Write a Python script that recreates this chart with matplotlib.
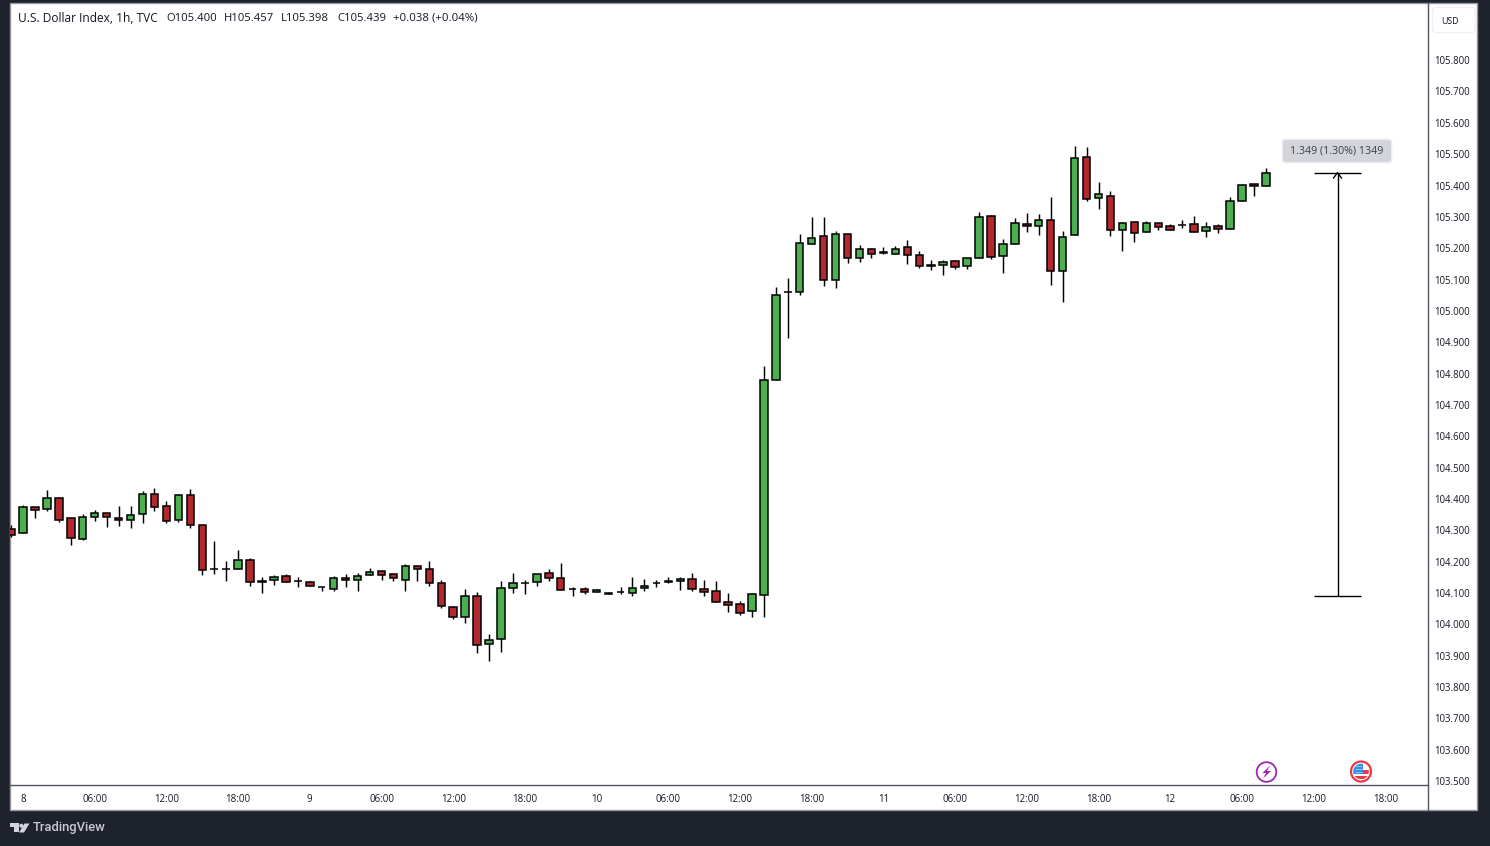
"""U.S. Dollar Index 1h candles with the price range measure, TradingView look."""
import matplotlib

matplotlib.use("Agg")
import matplotlib.pyplot as plt  # noqa: E402
from matplotlib.patches import Circle, FancyBboxPatch, Polygon, Rectangle  # noqa: E402

plt.rcParams["font.family"] = ["Open Sans", "DejaVu Sans"]

# hourly bars, index 0 is the bar under the "8" label
bar_index = list(range(-1, 105))
opens = [
    104.304, 104.291, 104.374, 104.368, 104.403, 104.338, 104.272, 104.342, 104.355, 104.339,
    104.332, 104.352, 104.415, 104.377, 104.332, 104.412, 104.317, 104.178, 104.176, 104.176,
    104.205, 104.138, 104.141, 104.154, 104.138, 104.135, 104.119, 104.112, 104.148, 104.141,
    104.157, 104.170, 104.161, 104.141, 104.186, 104.176, 104.132, 104.055, 104.023, 104.090,
    103.937, 103.953, 104.116, 104.133, 104.135, 104.164, 104.148, 104.114, 104.113, 104.103,
    104.100, 104.103, 104.100, 104.116, 104.133, 104.134, 104.138, 104.145, 104.113, 104.106,
    104.071, 104.065, 104.043, 104.094, 104.780, 105.060, 105.060, 105.213, 105.238, 105.098,
    105.245, 105.168, 105.197, 105.187, 105.181, 105.203, 105.178, 105.146, 105.146, 105.158,
    105.142, 105.168, 105.302, 105.174, 105.213, 105.276, 105.270, 105.289, 105.126, 105.241,
    105.490, 105.359, 105.365, 105.257, 105.282, 105.251, 105.279, 105.270, 105.273, 105.276,
    105.254, 105.270, 105.260, 105.349, 105.404, 105.400,
]
highs = [
    104.318, 104.381, 104.374, 104.429, 104.407, 104.338, 104.353, 104.365, 104.355, 104.378,
    104.378, 104.426, 104.436, 104.394, 104.416, 104.432, 104.317, 104.267, 104.203, 104.238,
    104.211, 104.152, 104.158, 104.161, 104.152, 104.139, 104.119, 104.154, 104.161, 104.165,
    104.180, 104.170, 104.164, 104.193, 104.189, 104.203, 104.141, 104.058, 104.113, 104.104,
    103.970, 104.138, 104.165, 104.141, 104.161, 104.178, 104.197, 104.119, 104.119, 104.113,
    104.103, 104.120, 104.152, 104.146, 104.141, 104.152, 104.151, 104.165, 104.142, 104.139,
    104.101, 104.075, 104.100, 104.825, 105.075, 105.104, 105.246, 105.300, 105.300, 105.254,
    105.245, 105.209, 105.200, 105.204, 105.206, 105.225, 105.191, 105.162, 105.162, 105.162,
    105.168, 105.316, 105.306, 105.229, 105.297, 105.313, 105.308, 105.362, 105.254, 105.525,
    105.522, 105.410, 105.381, 105.282, 105.286, 105.286, 105.279, 105.276, 105.289, 105.302,
    105.282, 105.276, 105.362, 105.404, 105.404, 105.457,
]
lows = [
    104.280, 104.291, 104.338, 104.363, 104.328, 104.252, 104.268, 104.331, 104.312, 104.315,
    104.309, 104.325, 104.363, 104.322, 104.328, 104.306, 104.159, 104.162, 104.140, 104.176,
    104.121, 104.099, 104.127, 104.135, 104.118, 104.122, 104.105, 104.105, 104.118, 104.108,
    104.157, 104.142, 104.140, 104.105, 104.137, 104.124, 104.051, 104.016, 104.006, 103.908,
    103.882, 103.911, 104.099, 104.096, 104.124, 104.137, 104.109, 104.089, 104.096, 104.103,
    104.097, 104.096, 104.092, 104.108, 104.118, 104.131, 104.111, 104.105, 104.089, 104.071,
    104.038, 104.029, 104.025, 104.025, 104.780, 104.915, 105.052, 105.213, 105.078, 105.072,
    105.154, 105.157, 105.170, 105.181, 105.181, 105.151, 105.138, 105.132, 105.116, 105.135,
    105.135, 105.168, 105.164, 105.122, 105.213, 105.252, 105.243, 105.084, 105.029, 105.241,
    105.352, 105.326, 105.240, 105.192, 105.221, 105.251, 105.259, 105.257, 105.263, 105.251,
    105.237, 105.250, 105.260, 105.349, 105.368, 105.398,
]
closes = [
    104.285, 104.374, 104.364, 104.403, 104.332, 104.275, 104.342, 104.355, 104.342, 104.332,
    104.348, 104.415, 104.374, 104.329, 104.412, 104.317, 104.173, 104.178, 104.176, 104.205,
    104.135, 104.135, 104.151, 104.135, 104.138, 104.122, 104.119, 104.148, 104.141, 104.154,
    104.167, 104.157, 104.148, 104.186, 104.176, 104.132, 104.058, 104.023, 104.090, 103.934,
    103.950, 104.116, 104.132, 104.133, 104.161, 104.148, 104.109, 104.114, 104.103, 104.109,
    104.097, 104.103, 104.116, 104.122, 104.133, 104.138, 104.145, 104.113, 104.103, 104.071,
    104.062, 104.036, 104.097, 104.780, 105.050, 105.060, 105.216, 105.232, 105.098, 105.245,
    105.168, 105.197, 105.181, 105.184, 105.197, 105.178, 105.142, 105.142, 105.155, 105.139,
    105.168, 105.299, 105.171, 105.213, 105.280, 105.270, 105.289, 105.126, 105.235, 105.487,
    105.356, 105.372, 105.257, 105.279, 105.247, 105.279, 105.267, 105.257, 105.273, 105.251,
    105.267, 105.260, 105.349, 105.400, 105.397, 105.439,
]

price_ticks = [105.8, 105.7, 105.6, 105.5, 105.4, 105.3, 105.2, 105.1, 105.0, 104.9, 104.8, 104.7,
               104.6, 104.5, 104.4, 104.3, 104.2, 104.1, 104.0, 103.9, 103.8, 103.7, 103.6, 103.5]
time_positions = [0, 6, 12, 18, 24, 30, 36, 42, 48, 54, 60, 66, 72, 78, 84, 90, 96, 102, 108, 114]
time_labels = ["8", "06:00", "12:00", "18:00", "9", "06:00", "12:00", "18:00", "10", "06:00",
               "12:00", "18:00", "11", "06:00", "12:00", "18:00", "12", "06:00", "12:00", "18:00"]

measure_low = 104.092
measure_high = 105.441
measure_x = [108, 110, 112]

UP = "#4caf50"
DOWN = "#b2282f"
DARK = "#1e222d"
AXIS = "#50535e"
TEXT = "#131722"

W, H = 1490, 846
PX_PER_BAR = 11.95
PX_PER_UNIT = 313.5
fig = plt.figure(figsize=(W / 100, H / 100), dpi=100, facecolor=DARK)

# chrome drawn in pixel coordinates
bg = fig.add_axes([0, 0, 1, 1], zorder=0)
bg.set_xlim(0, W)
bg.set_ylim(H, 0)
bg.axis("off")
bg.add_patch(Rectangle((10, 3), 1467, 807, fc="white", ec="#9598a1", lw=1))
bg.plot([1428, 1428], [3, 810], color=AXIS, lw=1)
bg.add_patch(FancyBboxPatch((1432.5, 7.5), 43, 25, boxstyle="round,pad=0,rounding_size=4",
                            fc="white", ec="#eef0f4", lw=1))
bg.text(1441, 21, "USD", fontsize=6.4, color=TEXT, va="center")

# price chart
ax = fig.add_axes([10 / W, (H - 785) / H, 1418 / W, 782 / H], zorder=1)
ax.patch.set_alpha(0)
ax.set_xlim((10 - 23) / PX_PER_BAR, (1428 - 23) / PX_PER_BAR)
ax.set_ylim(104 + (624.4 - 785) / PX_PER_UNIT, 104 + (624.4 - 3) / PX_PER_UNIT)

colors = [UP if c > o else DOWN for o, c in zip(opens, closes, strict=True)]
ax.vlines(bar_index, lows, highs, color="black", lw=1.05, zorder=2)
ax.bar(bar_index, [c - o for o, c in zip(opens, closes, strict=True)], bottom=opens, width=0.62,
       color=colors, edgecolor="black", linewidth=1.1, zorder=3)

# long-position style range measure
ax.hlines([measure_low, measure_high], measure_x[0], measure_x[2], color="black", lw=1, zorder=3)
ax.vlines(measure_x[1], measure_low, measure_high, color="black", lw=1, zorder=3)
ax.plot([measure_x[1] - 0.33, measure_x[1], measure_x[1] + 0.33],
        [measure_high - 0.017, measure_high, measure_high - 0.017], color="black", lw=1, zorder=3)

for side in ("top", "left", "right"):
    ax.spines[side].set_visible(False)
ax.spines["bottom"].set_color(AXIS)
ax.spines["bottom"].set_linewidth(1)
ax.yaxis.tick_right()
ax.set_yticks(price_ticks)
ax.set_yticklabels([f"{p:.3f}" for p in price_ticks])
ax.set_xticks(time_positions)
ax.set_xticklabels(time_labels)
ax.tick_params(axis="y", length=0, pad=4.7, labelsize=6.9, labelcolor=TEXT)
ax.tick_params(axis="x", length=0, pad=6.4, labelsize=7, labelcolor=TEXT)

# overlay: header, measure label, event icons, footer
top = fig.add_axes([0, 0, 1, 1], zorder=2)
top.set_xlim(0, W)
top.set_ylim(H, 0)
top.axis("off")

header = [(18, "U.S. Dollar Index, 1h, TVC", 8.6), (166, "O105.400", 8.1), (224, "H105.457", 8.1),
          (281, "L105.398", 8.1), (337, "C105.439", 8.1), (393, "+0.038 (+0.04%)", 8.2)]
for x, label, size in header:
    top.text(x, 18.5, label, fontsize=size, color=TEXT, va="center")

# soft shadow under the measure label, then the label itself
top.add_patch(FancyBboxPatch((1281.5, 138.5), 111, 25, boxstyle="round,pad=0,rounding_size=4",
                             fc="#eceef1", ec="none"))
top.add_patch(FancyBboxPatch((1283, 140), 108, 22, boxstyle="round,pad=0,rounding_size=3",
                             fc="#d3d5db", ec="none"))
top.text(1337, 151, "1.349 (1.30%) 1349", fontsize=7.7, color="#3c4048", ha="center", va="center")

# lightning event icon
top.add_patch(Circle((1266.5, 772), 9.8, fc="white", ec="#9c27b0", lw=1.3))
top.add_patch(Polygon([(1270, 765.5), (1262.5, 773), (1266, 773), (1263, 778.5), (1271, 771),
                       (1267, 771)], fc="#9c27b0", ec="none"))

# US flag event icon
top.add_patch(Circle((1361, 771.5), 10, fc="white", ec="#f23645", lw=1.6))
flag_clip = Circle((1361, 771.5), 7.8, transform=top.transData)
flag_parts = [
    Rectangle((1363, 770), 8, 4, fc="#f23645", ec="none"),
    Rectangle((1352, 776.5), 18, 3, fc="#f23645", ec="none"),
    Rectangle((1352, 763), 11, 11, fc="#2f8fe8", ec="none"),
]
for part in flag_parts:
    top.add_patch(part)
    part.set_clip_path(flag_clip)
for row_y in (766, 769, 772):
    top.hlines(row_y, 1354.5, 1362, color="#b7dcfb", lw=0.5)

# TradingView logo
logo_shapes = ([(10, 823.5), (18.5, 823.5), (18.5, 832.5), (13.5, 832.5), (13.5, 827.5), (10, 827.5)],
               [(24.5, 823.5), (29.5, 823.5), (24, 832.5), (19, 832.5)])
for shape in logo_shapes:
    top.add_patch(Polygon(shape, fc="#d1d4dc", ec="none"))
top.add_patch(Circle((21.3, 825.7), 2, fc="#d1d4dc", ec="none"))
top.text(33, 828, "TradingView", fontsize=9.4, color="#c8cad0", va="center", family="Roboto",
         weight="medium")

fig.savefig("out.png", dpi=100, facecolor=fig.get_facecolor())
print("wrote out.png")
